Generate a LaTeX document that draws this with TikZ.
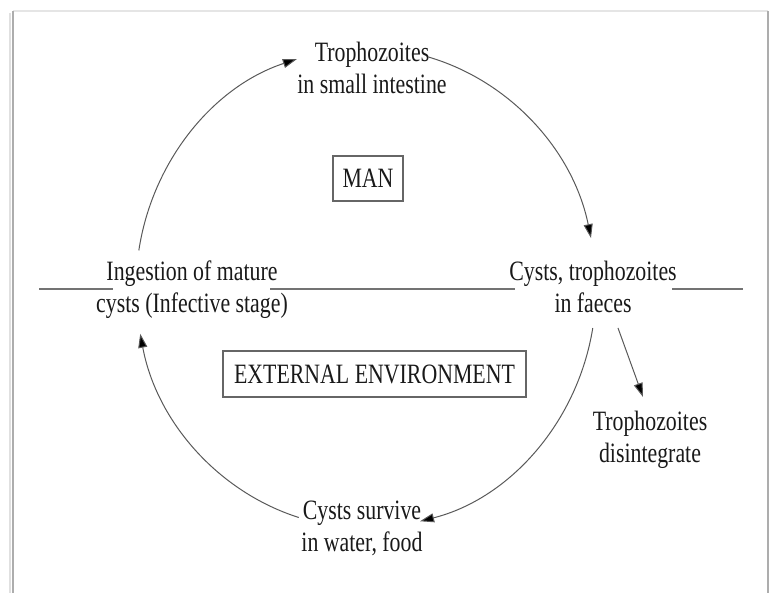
\documentclass[tikz,border=0pt]{standalone}
\usepackage{fontspec}
\setmainfont{Liberation Serif}[FakeStretch=0.78]
\usetikzlibrary{arrows.meta}
\begin{document}
\begin{tikzpicture}[x=1pt,y=1pt,
  lbl/.style={align=center, inner sep=0pt, text=black!90, font=\fontsize{28}{32}\selectfont},
  boxlbl/.style={draw=black!60, line width=1.1pt, inner sep=0pt, text=black!90, font=\fontsize{28}{32}\selectfont},
  cyc/.style={draw=black!65, line width=1pt, -{Triangle[length=14pt,width=9pt,fill=black]}},
  sep/.style={draw=black!55, line width=1.4pt},
  framel/.style={draw=black!32, line width=2.5pt}]
\useasboundingbox (0,0) rectangle (772,593);
% frame
\draw[black!10, line width=1.5pt] (13,582) -- (768,582);
\draw[framel] (13,-5) -- (13,582);
\draw[framel] (768,-5) -- (768,582);
\draw[black!12, line width=2pt] (10,-5) -- (10,580);
% labels
\node[lbl] (top) at (372,525.5) {Trophozoites\\in small intestine};
\node[lbl] (ingest) at (192,303) {Ingestion of mature\\cysts (Infective stage)};
\node[lbl] (faeces) at (593,306) {Cysts, trophozoites\\in faeces};
\node[lbl] (disint) at (650,153) {Trophozoites\\disintegrate};
\node[lbl] (survive) at (362,65) {Cysts survive\\in water, food};
\node[boxlbl, minimum width=70pt, minimum height=45pt] (man) at (368,414.5) {MAN};
\node[boxlbl, minimum width=303pt, minimum height=46pt] (ext) at (374.5,219) {EXTERNAL ENVIRONMENT};
% separator lines
\coordinate (l1) at (39,304); \coordinate (l2) at (113,304);
\coordinate (m1) at (270,304); \coordinate (m2) at (515,304);
\coordinate (r1) at (672,304); \coordinate (r2) at (743,304);
\draw[sep] (l1) -- (l2);
\draw[sep] (m1) -- (m2);
\draw[sep] (r1) -- (r2);
% cycle arcs
\coordinate (O) at (366,305);
\path (O) ++(171:230 and 240) coordinate (a1s);
\path (O) ++(74.3:230 and 240) coordinate (a2s);
\path (O) ++(-9.6:230 and 240) coordinate (a3s);
\path (O) ++(-107:230 and 240) coordinate (a4s);
\draw[cyc] (a1s) arc[start angle=171, end angle=107.5, x radius=230, y radius=240];
\draw[cyc] (a2s) arc[start angle=74.3, end angle=12, x radius=230, y radius=240];
\draw[cyc] (a3s) arc[start angle=-9.6, end angle=-76.4, x radius=230, y radius=240];
\draw[cyc] (a4s) arc[start angle=-107, end angle=-169, x radius=230, y radius=240];
% disintegrate arrow
\coordinate (d1) at (618,265);
\coordinate (d2) at (643,196);
\draw[cyc] (d1) -- (d2);
\end{tikzpicture}
\end{document}
